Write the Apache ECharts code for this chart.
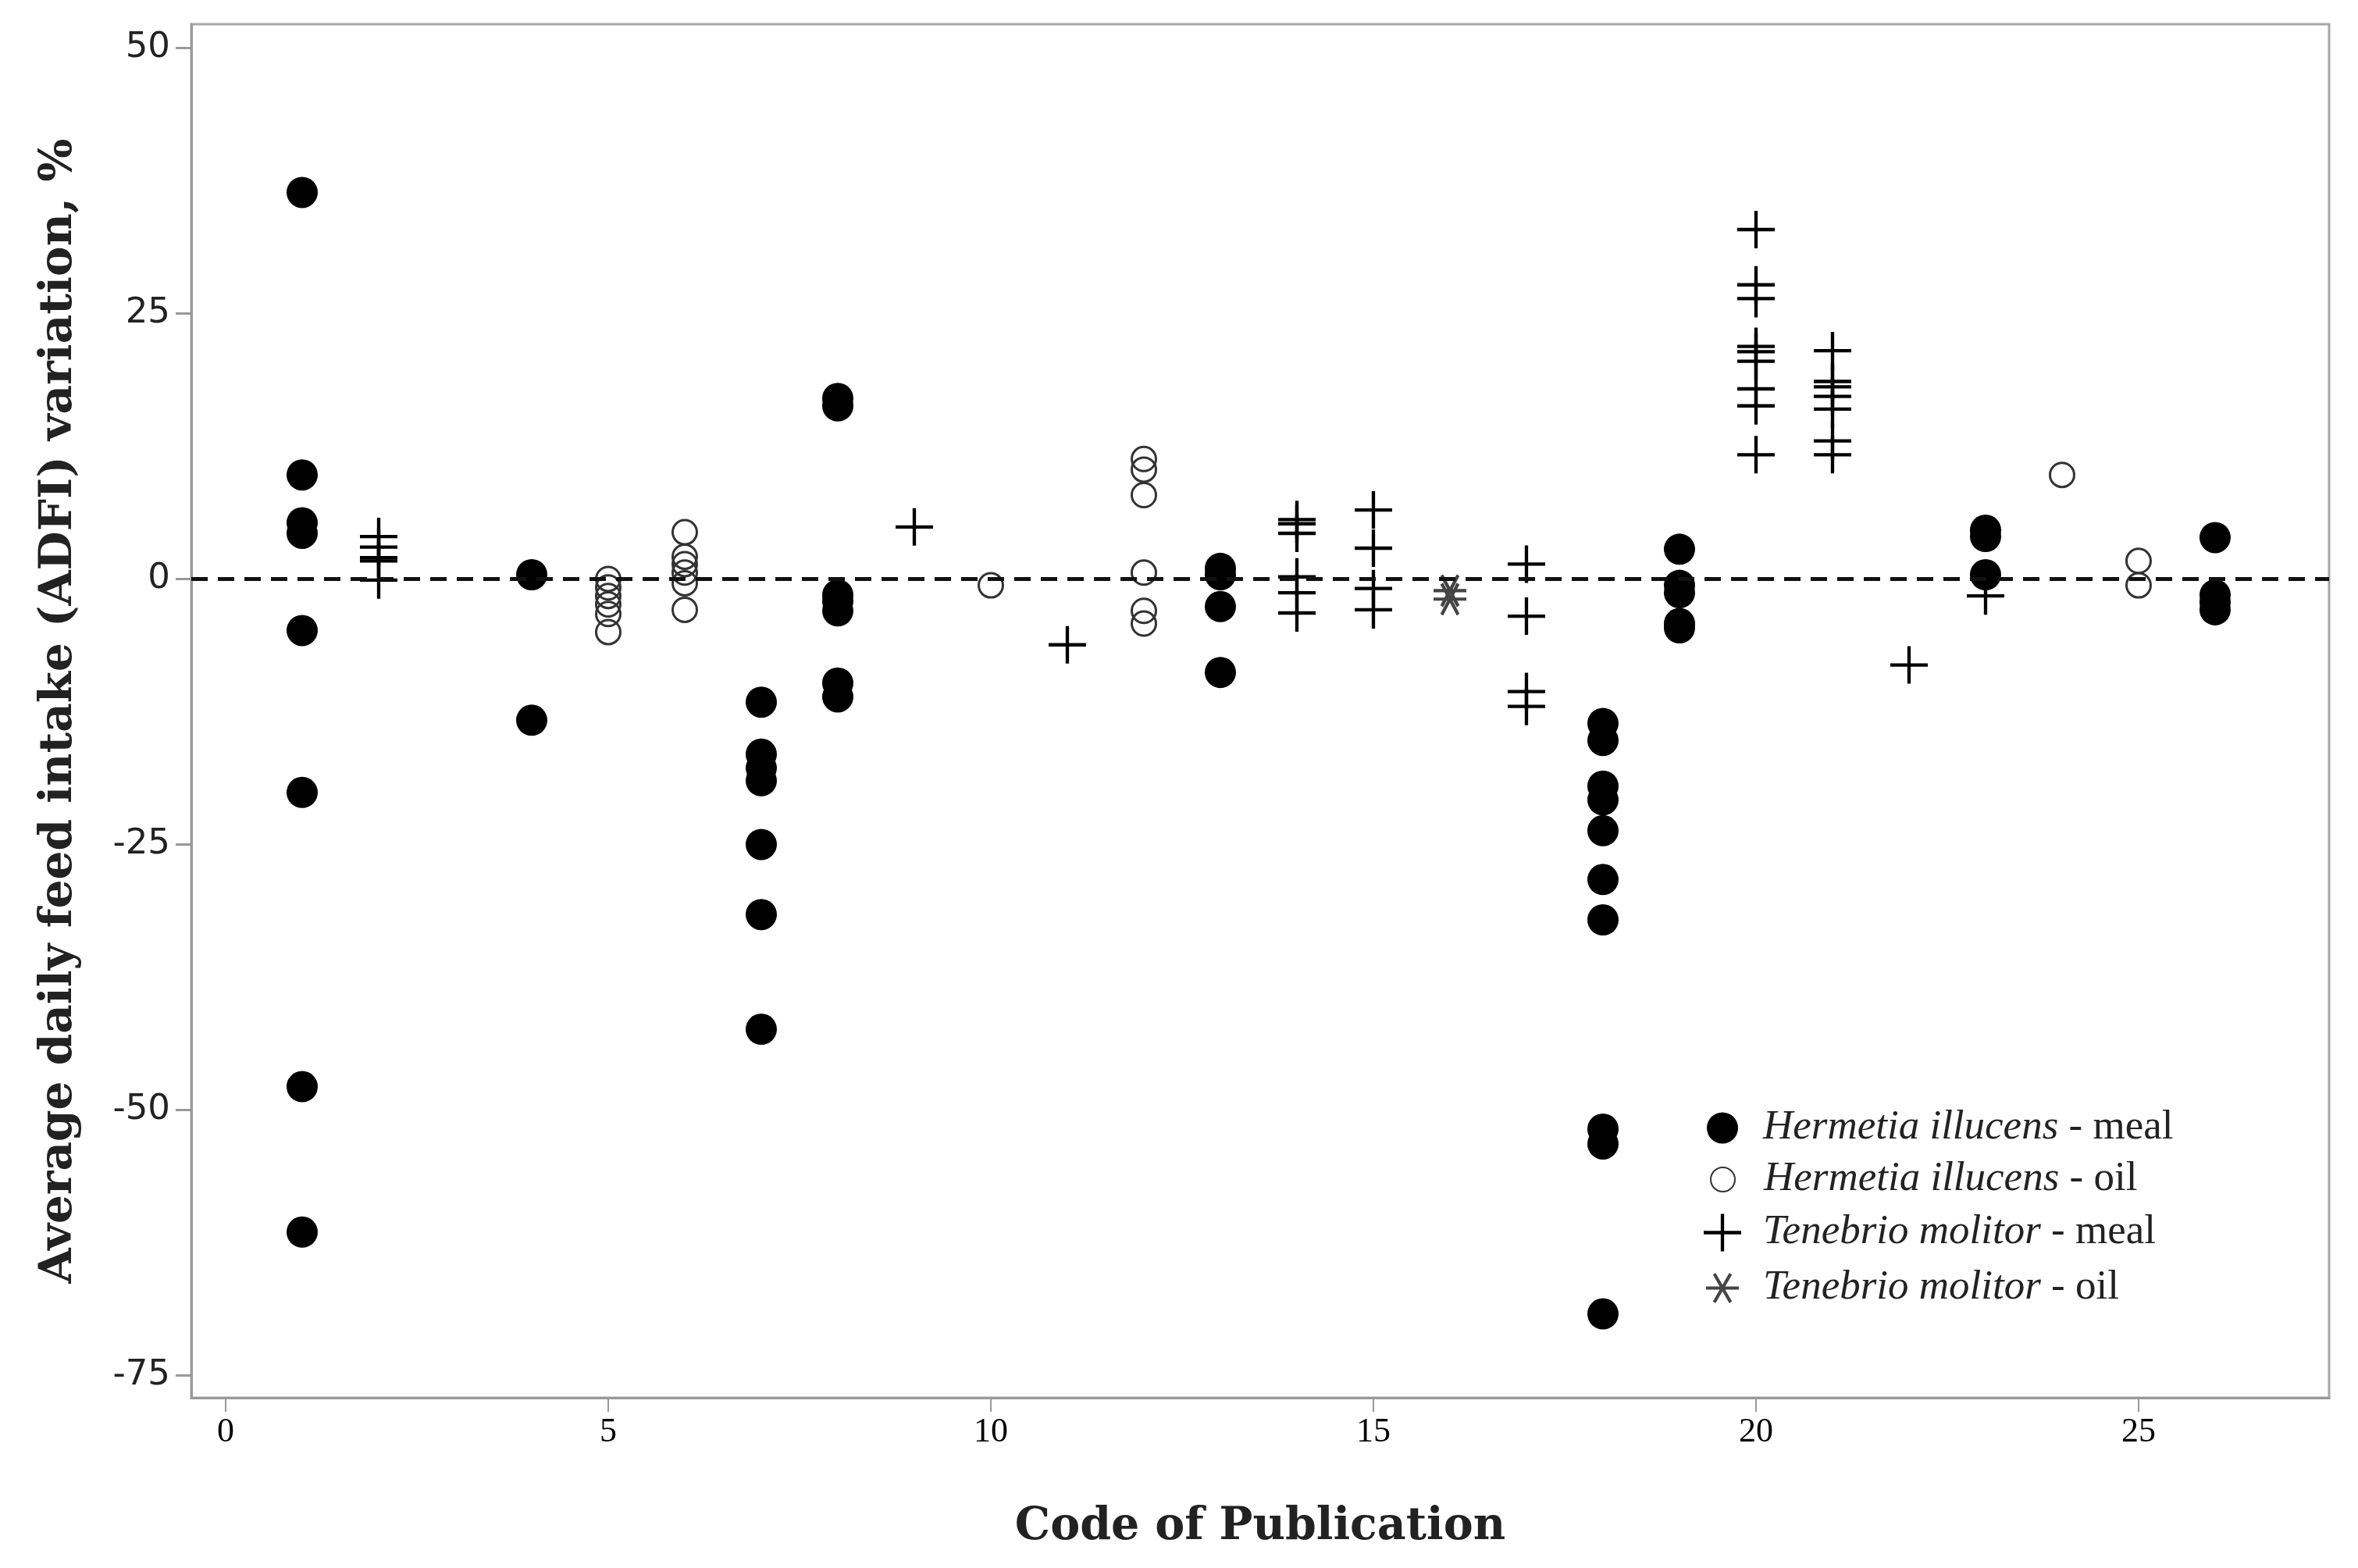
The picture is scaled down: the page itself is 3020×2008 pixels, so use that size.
<!DOCTYPE html>
<html>
<head>
<meta charset="utf-8">
<script src="https://cdn.jsdelivr.net/npm/echarts@6/dist/echarts.min.js"></script>
<style>
  html, body { margin: 0; padding: 0; background: #fff; }
  #chart { width: 3020px; height: 2008px; }
</style>
</head>
<body>
<div id="chart"></div>
<script>
// ---- Data: [code of publication, ADFI variation %] ----
const hiMeal = [
  [1, 36.4], [1, 9.8], [1, 5.3], [1, 4.3], [1, -4.85], [1, -20.1], [1, -47.8], [1, -61.5],
  [4, 0.4], [4, -13.3],
  [7, -11.6], [7, -16.5], [7, -17.8], [7, -19.0], [7, -25.0], [7, -31.6], [7, -42.4],
  [8, 17.0], [8, 16.3], [8, -1.5], [8, -2.1], [8, -3.0], [8, -9.8], [8, -11.1],
  [13, 1.0], [13, 0.4], [13, -2.6], [13, -8.8],
  [18, -13.6], [18, -15.2], [18, -19.5], [18, -20.8], [18, -23.7], [18, -28.3], [18, -32.1],
  [18, -51.8], [18, -53.2], [18, -69.2],
  [19, 2.8], [19, -0.6], [19, -1.3], [19, -4.2], [19, -4.6],
  [23, 4.6], [23, 4.0], [23, 0.4],
  [26, 3.9], [26, -1.5], [26, -2.2], [26, -2.9]
];
const hiOil = [
  [5, 0.0], [5, -0.8], [5, -1.6], [5, -2.4], [5, -3.3], [5, -5.0],
  [6, 4.4], [6, 2.1], [6, 1.4], [6, 0.6], [6, -0.4], [6, -2.9],
  [10, -0.6],
  [12, 11.3], [12, 10.3], [12, 7.9], [12, 0.6], [12, -3.0], [12, -4.2],
  [24, 9.8],
  [25, 1.7], [25, -0.6]
];
const tmMeal = [
  [2, 4.0], [2, 3.0], [2, 2.0], [2, 1.7], [2, -0.1],
  [9, 4.9],
  [11, -6.2],
  [14, 5.6], [14, 5.2], [14, 4.3], [14, 0.2], [14, -1.3], [14, -3.2],
  [15, 6.5], [15, 2.9], [15, -0.9], [15, -2.9],
  [17, 1.4], [17, -3.5], [17, -10.6], [17, -12.0],
  [20, 32.9], [20, 27.7], [20, 26.4], [20, 21.9], [20, 21.4], [20, 20.5], [20, 17.9], [20, 16.3], [20, 11.7],
  [21, 21.5], [21, 18.6], [21, 18.1], [21, 17.2], [21, 16.0], [21, 13.0], [21, 11.7],
  [22, -8.1],
  [23, -1.6]
];
const tmOil = [
  [16, -1.1], [16, -1.9]
];
const yTicks = [-75, -50, -25, 0, 25, 50];
const xTicks = [0, 5, 10, 15, 20, 25];
const seriesNames = [
  'Hermetia illucens - meal',
  'Hermetia illucens - oil',
  'Tenebrio molitor - meal',
  'Tenebrio molitor - oil'
];

// ---- Symbols ----
const PLUS = 'path://M0,45.5 L100,45.5 L100,54.5 L0,54.5 Z M45.5,0 L54.5,0 L54.5,100 L45.5,100 Z';
const STAR = 'path://M0,45.5 L100,45.5 L100,54.5 L0,54.5 Z ' +
             'M29.33,4.2 L79.33,90.8 L70.67,95.8 L20.67,9.2 Z ' +
             'M79.33,9.2 L29.33,95.8 L20.67,90.8 L70.67,4.2 Z';

const chart = echarts.init(document.getElementById('chart'), null, { renderer: 'canvas' });

function legendFor(name, left, top, w, h, spacer) {
  return {
    data: [name],
    left: left, top: top,
    orient: 'vertical',
    itemWidth: w, itemHeight: h, itemGap: 0,
    selectedMode: false,
    formatter: function (n) {
      const p = n.split(' - ');
      return '{s|}{i|' + p[0] + '}{r| - ' + p[1] + '}';
    },
    textStyle: {
      lineHeight: 48,
      rich: {
        s: { width: spacer },
        i: { fontFamily: 'Liberation Serif', fontStyle: 'italic', fontSize: 53, color: '#222', lineHeight: 48 },
        r: { fontFamily: 'Liberation Serif', fontSize: 53, color: '#222', lineHeight: 48 }
      }
    }
  };
}

const option = {
  animation: false,
  backgroundColor: '#fff',
  grid: {
    left: 245, top: 31, width: 2738, height: 1759,
    show: true, borderColor: '#a6a6a6', borderWidth: 3,
    containLabel: false
  },
  legend: [
    legendFor(seriesNames[0], 2181, 1413, 40, 40, 27),
    legendFor(seriesNames[1], 2185, 1479, 31, 31, 32),
    legendFor(seriesNames[2], 2177, 1547, 48, 48, 23),
    legendFor(seriesNames[3], 2180, 1618, 42, 42, 26)
  ],
  xAxis: {
    type: 'value',
    min: -0.449, max: 27.49,
    name: 'Code of Publication',
    nameLocation: 'middle',
    nameGap: 138,
    nameTextStyle: { fontFamily: 'DejaVu Serif', fontWeight: 'bold', fontSize: 57, color: '#222' },
    axisLine: { show: true, onZero: false, lineStyle: { color: '#999', width: 3 } },
    axisTick: { show: true, length: 18, customValues: xTicks, lineStyle: { color: '#999', width: 2 } },
    axisLabel: { customValues: xTicks, margin: 22, fontFamily: 'Liberation Serif', fontSize: 44, color: '#000' },
    splitLine: { show: false }
  },
  yAxis: {
    type: 'value',
    min: -77.1, max: 52.24,
    name: 'Average daily feed intake (ADFI) variation, %',
    nameLocation: 'middle',
    nameRotate: 90,
    nameGap: 140,
    nameTextStyle: { fontFamily: 'DejaVu Serif', fontWeight: 'bold', fontSize: 58, color: '#222' },
    axisLine: { show: true, onZero: false, lineStyle: { color: '#999', width: 3 } },
    axisTick: { show: true, length: 20, customValues: yTicks, lineStyle: { color: '#999', width: 3 } },
    axisLabel: { customValues: yTicks, margin: 27, fontFamily: 'DejaVu Sans', fontSize: 45, color: '#222' },
    splitLine: { show: false }
  },
  series: [
    {
      name: seriesNames[0], type: 'scatter', data: hiMeal,
      symbol: 'circle', symbolSize: 40,
      itemStyle: { color: '#000', opacity: 1 },
      markLine: {
        silent: true, symbol: ['none', 'none'],
        label: { show: false },
        lineStyle: { color: '#111', width: 5, type: [21, 13] },
        data: [{ yAxis: 0 }]
      },
      z: 3
    },
    {
      name: seriesNames[1], type: 'scatter', data: hiOil,
      symbol: 'circle', symbolSize: 31,
      itemStyle: { color: 'rgba(0,0,0,0)', borderColor: '#333', borderWidth: 3, opacity: 1 },
      z: 3
    },
    {
      name: seriesNames[2], type: 'scatter', data: tmMeal,
      symbol: PLUS, symbolSize: 48,
      itemStyle: { color: '#000', opacity: 1 },
      z: 3
    },
    {
      name: seriesNames[3], type: 'scatter', data: tmOil,
      symbol: STAR, symbolSize: 42,
      itemStyle: { color: '#444', opacity: 1 },
      z: 3
    }
  ]
};
chart.setOption(option);
</script>
</body>
</html>
